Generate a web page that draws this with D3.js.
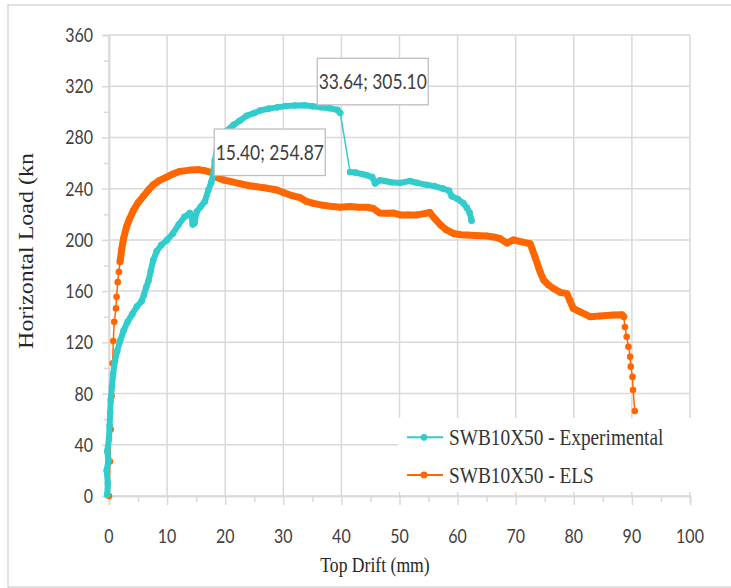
<!DOCTYPE html>
<html><head><meta charset="utf-8">
<script src="https://cdn.jsdelivr.net/npm/d3@7"></script>
<style>html,body{margin:0;padding:0;background:#fff;} svg{display:block;}</style>
</head><body><svg id="chart" width="731" height="588"></svg>
<script>
// Load–drift readings, SWB10X50 wall test (mm, kN)
const expDrift = [-0.3,-0.2,-0.4,-0.1,-0.3,0.0,0.1,0.2,0.3,0.5,0.7,1.0,1.4,1.9,2.5,3.2,4.0,4.8,5.6,6.0,6.4,6.8,7.2,7.6,8.2,9.0,10.0,11.0,12.0,13.0,13.9,14.2,14.4,14.7,15.1,15.8,16.5,17.1,17.6,18.0,18.2,18.6,19.2,20.2,21.5,22.5,23.7,25.0,26.0,27.5,29.0,30.5,32.0,33.64,35.0,36.5,38.0,39.3,39.8,41.5,42.5,43.5,44.3,45.3,45.8,46.6,47.5,48.5,50.1,51.8,53.0,54.7,56.0,57.5,58.5,59.0,60.0,61.0,61.6,62.1,62.4];
const expLoad  = [1,10,20,28,35,45,55,65,75,85,95,105,113,121,129,136,142,148,152,157,163,168,176,184,191,196,200,205,212,218,221,218,212,213,222,226,230,239,245,252,262,272,279,285,290,293,297,299,301,302.5,303.5,304.5,304.9,305.10,304.3,303.6,302.8,301.5,299,253,252.5,251.5,250.6,249,244,246.5,246,245,244.5,246,244.5,243,242,240,238.5,234,232,228.6,225,221,215];

// Equivalent lateral stiffness (ELS) model
const elsDrift = [0,0.17,0.3,0.46,0.63,0.74,0.9,1.2,1.3,1.5,1.7,1.9,2.2,2.5,3.0,3.5,4.2,5.0,5.9,6.8,7.6,8.7,9.9,11.0,12.2,13.9,15.4,16.5,17.7,18.5,19.7,21.0,22.5,24.0,25.4,27.0,28.9,30.0,31.2,32.9,34.0,35.2,36.9,38.5,39.8,41.5,43.0,44.5,45.5,46.6,47.8,49.0,50.1,51.5,53.0,54.3,55.2,56.0,57.0,58.0,59.3,60.5,61.6,63.0,65.0,66.5,67.3,68.5,69.6,71.0,72.5,73.3,74.2,74.8,75.6,76.5,77.7,78.8,79.3,79.9,81.0,82.8,84.5,86.8,88.3,88.6,88.8,89.1,89.4,89.7,89.8,90.1,90.2,90.5];
const elsLoad  = [0,27,52,78,103.6,121,136,146.5,155.6,167,175,183,193,201,210,216,223,229,234,239,243,246.5,249,251.5,253.5,254.5,254.87,254,252.5,249,246.8,245.5,244,242.5,241.5,240.5,239,237,235,233,230,228.5,227,226,225.5,226,225.5,225.5,224.5,221,220.8,221,219.5,219.5,219.5,220.5,221.5,217,212,208,205,204,203.8,203.5,203,202,201,197.5,200,198.5,197,187,175,168.7,165,162,159,158,153,146.5,144,140,140.5,141.3,141.5,140,132,124.4,116.6,108.8,101,93,82.8,66.4];

// Drift spans recorded continuously (drawn as a solid band)
const expDenseRuns = [[-1, 39.8], [41.5, 63]];
const elsDenseRuns = [[1.9, 88.6]];

const xTicks = [0,10,20,30,40,50,60,70,80,90,100];
const yTicks = [0,40,80,120,160,200,240,280,320,360];
const seriesNames = ["SWB10X50 - Experimental", "SWB10X50 - ELS"];
const seriesColors = ["#33CCCC", "#FF6600"];
const peakDrift = [15.40, 33.64];
const peakLoad  = [254.87, 305.10];

const svg = d3.select("#chart");
const W = 731, H = 588;
const x = d3.scaleLinear().domain([0, 100]).range([109, 690]);
const y = d3.scaleLinear().domain([0, 360]).range([496, 35]);
const gridColor = "#d9d9d9";
const tickFont = "Lato, 'Open Sans', sans-serif";
const serifFont = "'Liberation Serif', 'DejaVu Serif', serif";
const SQ = 0.82;   // horizontal condensing of lettering

svg.append("rect").attr("x", 8).attr("y", 5).attr("width", W - 8 + 4).attr("height", 582)
  .attr("fill", "#fff").attr("stroke", gridColor).attr("stroke-width", 1.5);

// gridlines
const g = svg.append("g");
g.selectAll(".hg").data(yTicks).join("line")
  .attr("x1", x(0)).attr("x2", x(100)).attr("y1", d => y(d)).attr("y2", d => y(d))
  .attr("stroke", gridColor).attr("stroke-width", 1.5);
g.selectAll(".vg").data(xTicks).join("line")
  .attr("y1", y(0)).attr("y2", y(360)).attr("x1", d => x(d)).attr("x2", d => x(d))
  .attr("stroke", gridColor).attr("stroke-width", 1.5);

// axes with major and minor ticks
const xAxis = d3.axisBottom(x).tickValues(xTicks).tickSize(9).tickFormat("");
const xMinor = d3.axisBottom(x).tickValues(xTicks.slice(0, -1).map(d => d + 5)).tickSize(6).tickFormat("");
const yAxis = d3.axisLeft(y).tickValues(yTicks).tickSize(7).tickFormat("");
const yMinor = d3.axisLeft(y).tickValues(yTicks.slice(0, -1).map(d => d + 20)).tickSize(5).tickFormat("");
[[xAxis, `translate(0,${y(0)})`], [xMinor, `translate(0,${y(0)})`], [yAxis, `translate(${x(0)},0)`], [yMinor, `translate(${x(0)},0)`]]
  .forEach(([ax, tr]) => {
    const a = svg.append("g").attr("transform", tr).call(ax);
    a.select(".domain").attr("stroke", gridColor).attr("stroke-width", 1.5);
    a.selectAll(".tick line").attr("stroke", gridColor).attr("stroke-width", 1.5);
  });

function squashText(sel, px, py, k) {
  sel.attr("transform", `translate(${px},${py}) scale(${k},1)`);
}

// tick labels
xTicks.forEach(d => {
  const t = svg.append("text").text(d).attr("text-anchor", "middle")
    .attr("font-family", tickFont).attr("font-size", 19.5).attr("fill", "#404040");
  squashText(t, x(d), 542.5, SQ);
});
yTicks.forEach(d => {
  const t = svg.append("text").text(d).attr("text-anchor", "end")
    .attr("font-family", tickFont).attr("font-size", 19.5).attr("fill", "#404040");
  squashText(t, 93, y(d) + 7, SQ);
});

// axis titles
squashText(svg.append("text").text("Top Drift (mm)").attr("text-anchor", "middle")
  .attr("font-family", serifFont).attr("font-size", 21).attr("fill", "#262626"), 375, 572, 0.84);
svg.append("text").text("Horizontal Load (kn").attr("text-anchor", "middle")
  .attr("font-family", serifFont).attr("font-size", 24).attr("fill", "#262626")
  .attr("transform", "translate(33,251) rotate(-90) scale(1,0.84)");

// series
function drawSeries(drift, load, runs, color, bandWidth) {
  const pts = drift.map((d, i) => [x(d), y(load[i]), d]);
  const inRun = (a, b) => runs.some(([lo, hi]) => a >= lo && a <= hi && b >= lo && b <= hi);
  const gs = svg.append("g");
  gs.append("path").attr("d", d3.line()(pts.map(p => [p[0], p[1]])))
    .attr("fill", "none").attr("stroke", color).attr("stroke-width", 1.5);
  // continuous recording spans
  let cur = [];
  const bands = [];
  for (let i = 0; i < pts.length - 1; i++) {
    if (inRun(pts[i][2], pts[i + 1][2])) {
      if (!cur.length) cur.push(pts[i]);
      cur.push(pts[i + 1]);
    } else if (cur.length) { bands.push(cur); cur = []; }
  }
  if (cur.length) bands.push(cur);
  bands.forEach(b => gs.append("path").attr("d", d3.line()(b.map(p => [p[0], p[1]])))
    .attr("fill", "none").attr("stroke", color).attr("stroke-width", bandWidth)
    .attr("stroke-linejoin", "round").attr("stroke-linecap", "round"));
  gs.selectAll("circle").data(pts).join("circle")
    .attr("cx", p => p[0]).attr("cy", p => p[1]).attr("r", 3.3).attr("fill", color);
}
drawSeries(elsDrift, elsLoad, elsDenseRuns, seriesColors[1], 7);
drawSeries(expDrift, expLoad, expDenseRuns, seriesColors[0], 6);

// peak callouts
const boxOffsets = [[15.8, -40.6], [12.8, -47]];
peakDrift.forEach((d, i) => {
  const bx = x(d) + boxOffsets[i][0], by = y(peakLoad[i]) + boxOffsets[i][1];
  svg.append("rect").attr("x", bx).attr("y", by).attr("width", 111).attr("height", 46.5)
    .attr("fill", "#fff").attr("stroke", "#bfbfbf").attr("stroke-width", 1.3);
  const t = svg.append("text").text(`${d.toFixed(2)}; ${peakLoad[i].toFixed(2)}`)
    .attr("text-anchor", "middle").attr("font-family", tickFont).attr("font-size", 20.5).attr("fill", "#404040");
  squashText(t, bx + 55.5, by + 30.5, 0.85);
});

// legend
svg.append("rect").attr("x", 398).attr("y", 418).attr("width", 296).attr("height", 74).attr("fill", "#fff");
const legY = [437.3, 475];
seriesNames.forEach((name, i) => {
  svg.append("line").attr("x1", 407).attr("x2", 443).attr("y1", legY[i]).attr("y2", legY[i])
    .attr("stroke", seriesColors[i]).attr("stroke-width", 2);
  svg.append("circle").attr("cx", 424).attr("cy", legY[i]).attr("r", 3.4).attr("fill", seriesColors[i]);
  squashText(svg.append("text").text(name).attr("font-family", serifFont).attr("font-size", 23)
    .attr("fill", "#333"), 449, legY[i] + 7.5, 0.84);
});
</script></body></html>
